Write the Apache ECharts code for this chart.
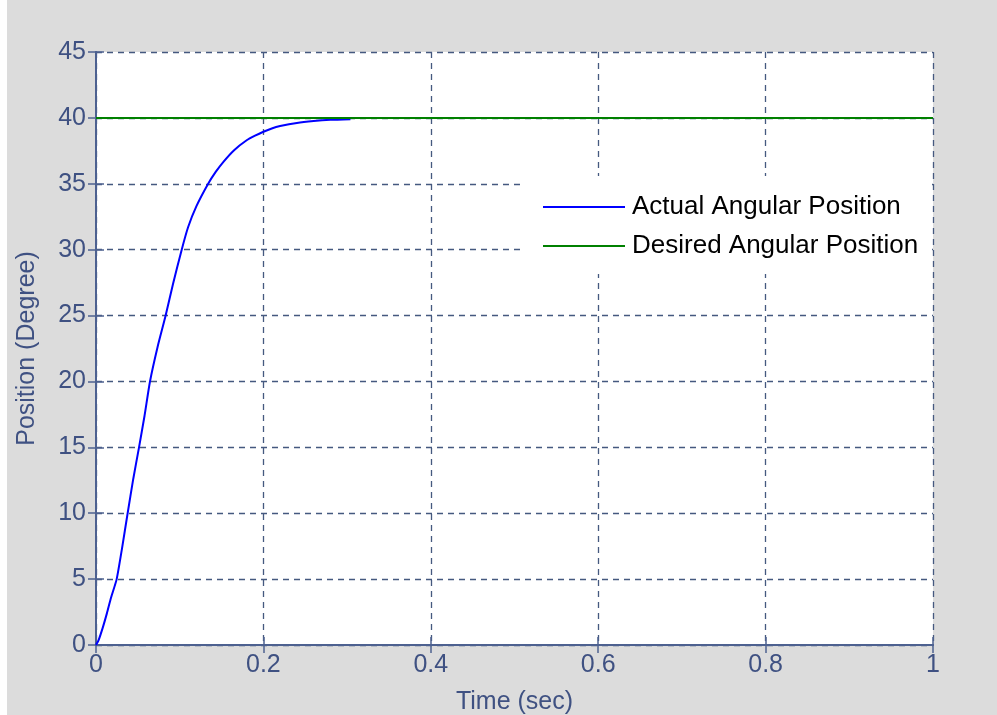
<!DOCTYPE html>
<html>
<head>
<meta charset="utf-8">
<script src="https://cdn.jsdelivr.net/npm/echarts@6/dist/echarts.min.js"></script>
<style>
  html, body { margin: 0; padding: 0; background: #fff; }
  #chart { width: 997px; height: 715px; }
</style>
</head>
<body>
<div id="chart"></div>
<script>
// step response of the position loop
const timeSec = [0, 0.003, 0.008, 0.013, 0.018, 0.0247, 0.031, 0.0378, 0.0445, 0.0514, 0.058, 0.0645,
  0.0735, 0.0832, 0.092, 0.1024, 0.11, 0.12, 0.134, 0.143, 0.152, 0.165, 0.18, 0.19, 0.2,
  0.21, 0.22, 0.24, 0.26, 0.28, 0.304];
const actualPos = [0, 0.35, 1.3, 2.4, 3.6, 5, 7.3, 10, 12.6, 15, 17.4, 20,
  22.6, 25, 27.4, 30, 31.7, 33.3, 35, 35.9, 36.65, 37.55, 38.3, 38.65, 38.95,
  39.2, 39.38, 39.62, 39.76, 39.85, 39.9];
const desiredTime = [0, 1];
const desiredPos = [40, 40];

const axisColor = '#4D6190';
const textColor = '#3F5182';
const font = "'Liberation Sans', Arial, sans-serif";

const actualData = timeSec.map((t, i) => [t, actualPos[i]]);
const desiredData = desiredTime.map((t, i) => [t, desiredPos[i]]);

const gridLine = { show: true, lineStyle: { color: '#45597F', width: 1.3, type: [6, 5] } };
const tick = { show: true, inside: true, length: 8, lineStyle: { color: axisColor, width: 1.5 } };
const line = { show: true, lineStyle: { color: axisColor, width: 2 } };

const chart = echarts.init(document.getElementById('chart'));
chart.setOption({
  backgroundColor: '#DCDCDC',
  animation: false,
  textStyle: { fontFamily: font },
  graphic: [{
    type: 'rect', left: 0, top: 0, z: -10,
    shape: { width: 7, height: 715 },
    style: { fill: '#fff' }
  }],
  grid: {
    left: 96, right: 64, top: 52, bottom: 70,
    outerBoundsMode: 'none',
    containLabel: false,
    show: true, backgroundColor: '#fff', borderWidth: 0
  },
  legend: {
    orient: 'vertical',
    left: 523, top: 176,
    padding: [18, 12, 15, 20],
    backgroundColor: '#fff',
    icon: 'rect',
    itemWidth: 82, itemHeight: 2, itemGap: 13,
    textStyle: { color: '#000', fontSize: 26, fontFamily: font, padding: [0, 0, 0, 2] },
    data: ['Actual Angular Position', 'Desired Angular Position']
  },
  xAxis: [{
    type: 'value', min: 0, max: 1, interval: 0.2,
    name: 'Time (sec)', nameLocation: 'middle', nameGap: 45,
    nameTextStyle: { color: textColor, fontSize: 25 },
    axisLine: line, axisTick: tick, splitLine: gridLine,
    axisLabel: { color: textColor, fontSize: 25, margin: 8 }
  }, {
    type: 'value', position: 'top', min: 0, max: 1, interval: 0.2,
    axisLine: line, axisTick: tick, splitLine: { show: false },
    axisLabel: { show: false }
  }],
  yAxis: [{
    type: 'value', min: 0, max: 45, interval: 5,
    name: 'Position (Degree)', nameLocation: 'middle', nameGap: 56,
    nameTextStyle: { color: textColor, fontSize: 25 },
    axisLine: line, axisTick: tick, splitLine: gridLine,
    axisLabel: { color: textColor, fontSize: 25, margin: 10 }
  }, {
    type: 'value', position: 'right', min: 0, max: 45, interval: 5,
    axisLine: line, axisTick: tick, splitLine: { show: false },
    axisLabel: { show: false }
  }],
  series: [{
    name: 'Actual Angular Position',
    type: 'line',
    data: actualData,
    symbol: 'none',
    smooth: 0.2,
    lineStyle: { color: '#0000FF', width: 2 },
    itemStyle: { color: '#0000FF' },
    z: 3
  }, {
    name: 'Desired Angular Position',
    type: 'line',
    data: desiredData,
    symbol: 'none',
    lineStyle: { color: '#008000', width: 2 },
    itemStyle: { color: '#008000' },
    z: 4
  }]
});
</script>
</body>
</html>
